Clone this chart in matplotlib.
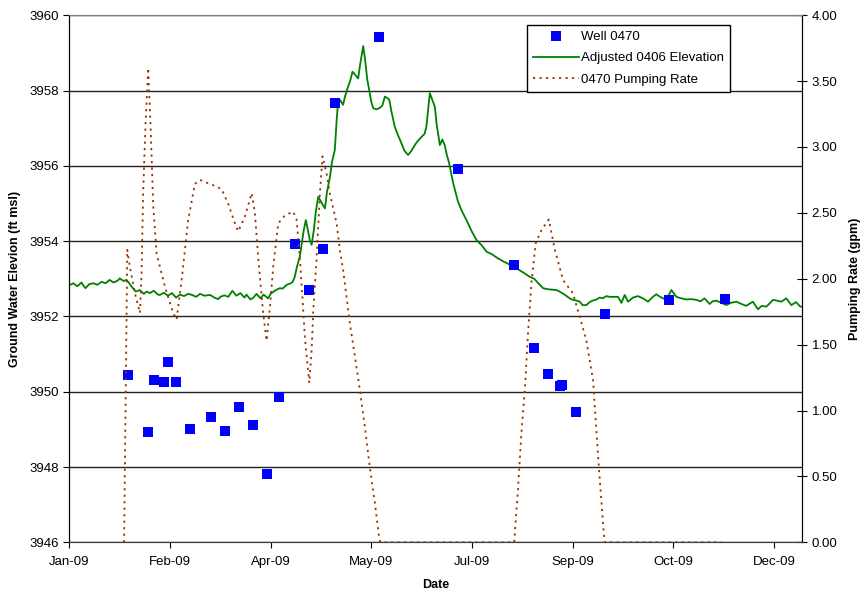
import pandas as pd
import matplotlib.pyplot as plt
import matplotlib.dates as mdates
from matplotlib.lines import Line2D
from matplotlib.ticker import FixedLocator, FormatStrFormatter

plt.rcParams['font.family'] = ['Liberation Sans', 'DejaVu Sans']

start = pd.Timestamp('2009-01-01')

# Well 0470 manual readings (days since 1 Jan 2009, ft msl)
well_days = [29.2, 39.2, 42.1, 47.2, 49.2, 53.1, 59.9, 70.2, 77.2, 84.1, 91.1, 98.2,
             104.1, 112.2, 119.0, 126.1, 132.1, 153.9, 193.0, 221.0, 230.9, 237.8,
             243.8, 245.0, 251.9, 266.0, 297.9, 325.9]
well_elev = [3950.45, 3948.94, 3950.30, 3950.27, 3950.78, 3950.25, 3949.02, 3949.32,
             3948.97, 3949.60, 3949.12, 3947.82, 3949.86, 3953.92, 3952.71, 3953.80,
             3957.67, 3959.42, 3955.92, 3953.36, 3951.17, 3950.46, 3950.16, 3950.19,
             3949.47, 3952.06, 3952.44, 3952.45]

# Adjusted 0406 transducer elevation
adj_days = [0, 2, 4, 6, 8, 10, 12, 14, 16, 18, 20, 22, 24, 25, 27, 28.5, 30, 31, 33, 35,
            37, 38.5, 40, 42, 44, 45, 47, 49, 51, 53, 55, 57, 59, 61, 63, 65, 67, 70, 72,
            74, 75, 77, 79, 81, 83, 85, 87, 88, 90, 91.5, 93, 95, 96.5, 98.8, 100, 102,
            104.5, 106, 108, 110, 111, 112, 113, 114.5, 115.5, 116.5, 117.5, 118.5, 119.5,
            120.4, 121.5, 122.5, 123.7, 125, 127, 128, 129.5, 130.5, 131.9, 132.8, 133.6,
            134.5, 136, 137, 138.5, 139.5, 140.7, 142, 143.5, 144.5, 146, 147, 148, 149,
            150, 151, 152.5, 154, 155.5, 156.8, 158, 159, 160, 161.7, 163, 165, 166.5,
            168.3, 170, 171.6, 173, 175, 176.5, 177.4, 178.3, 179.1, 180, 181.6, 182.5,
            184.1, 185.3, 186.5, 187.5, 188.7, 190.7, 193.1, 195, 197.3, 200, 202.3, 205,
            207.3, 210, 213, 216, 218, 220.5, 223, 226, 228.8, 231, 233, 235.4, 238, 242,
            243.6, 246, 248.6, 250.2, 252, 253.6, 255, 256.9, 258.5, 260, 261.9, 263.5,
            265, 266.8, 268.5, 270.1, 272.6, 274.3, 275.9, 277.6, 280, 282.5, 285, 287.5,
            289.5, 291.6, 293.5, 296.6, 299.1, 301.6, 304, 306.6, 309, 311.5, 313.5,
            315.6, 318.1, 319.5, 321.4, 324, 326.4, 328.5, 331.4, 333.5, 336.3, 338,
            339.6, 342.1, 344, 346.3, 348, 349.6, 351.5, 353.7, 356.2, 358.7, 361, 363, 364]
adj_elev = [3952.83, 3952.88, 3952.80, 3952.90, 3952.75, 3952.86, 3952.88, 3952.84,
            3952.92, 3952.88, 3952.97, 3952.90, 3952.95, 3953.01, 3952.94, 3952.97,
            3952.86, 3952.79, 3952.66, 3952.70, 3952.60, 3952.66, 3952.62, 3952.68,
            3952.58, 3952.57, 3952.63, 3952.55, 3952.62, 3952.50, 3952.58, 3952.54,
            3952.60, 3952.57, 3952.52, 3952.60, 3952.55, 3952.57, 3952.50, 3952.46,
            3952.52, 3952.56, 3952.52, 3952.68, 3952.55, 3952.62, 3952.50, 3952.58,
            3952.45, 3952.50, 3952.60, 3952.48, 3952.58, 3952.48, 3952.60, 3952.68,
            3952.75, 3952.74, 3952.84, 3952.88, 3952.92, 3953.05, 3953.30, 3953.59,
            3953.95, 3954.30, 3954.56, 3954.30, 3954.03, 3953.90, 3954.30, 3954.80,
            3955.18, 3955.05, 3954.87, 3955.30, 3955.71, 3956.10, 3956.42, 3957.20,
            3957.75, 3957.75, 3957.62, 3957.85, 3958.10, 3958.25, 3958.50, 3958.42,
            3958.32, 3958.70, 3959.18, 3958.80, 3958.30, 3958.01, 3957.70, 3957.53,
            3957.50, 3957.53, 3957.60, 3957.84, 3957.80, 3957.75, 3957.45, 3957.04,
            3956.85, 3956.60, 3956.40, 3956.29, 3956.40, 3956.55, 3956.65, 3956.77,
            3956.85, 3957.04, 3957.50, 3957.93, 3957.80, 3957.57, 3957.10, 3956.55,
            3956.70, 3956.55, 3956.30, 3956.07, 3955.54, 3955.05, 3954.80, 3954.56,
            3954.25, 3954.03, 3953.88, 3953.72, 3953.65, 3953.54, 3953.45, 3953.40,
            3953.32, 3953.25, 3953.15, 3953.05, 3953.00, 3952.88, 3952.75, 3952.72,
            3952.70, 3952.66, 3952.58, 3952.48, 3952.44, 3952.42, 3952.39, 3952.30,
            3952.30, 3952.38, 3952.42, 3952.45, 3952.50, 3952.48, 3952.54, 3952.52,
            3952.52, 3952.52, 3952.36, 3952.57, 3952.39, 3952.50, 3952.54, 3952.48,
            3952.39, 3952.50, 3952.59, 3952.52, 3952.44, 3952.70, 3952.52, 3952.48,
            3952.45, 3952.46, 3952.44, 3952.40, 3952.48, 3952.33, 3952.40, 3952.42,
            3952.36, 3952.30, 3952.36, 3952.39, 3952.34, 3952.28, 3952.34, 3952.39,
            3952.19, 3952.28, 3952.26, 3952.35, 3952.44, 3952.42, 3952.39, 3952.48,
            3952.30, 3952.38, 3952.27, 3952.25]

# 0470 pumping rate (gpm)
pump_days = [27.2, 28.8, 30.1, 32.6, 35.1, 35.9, 36.7, 37.9, 39.2, 40.4, 41.7, 43.4, 47.5,
             51.6, 53.3, 55.8, 59.1, 62.4, 64.9, 71.5, 75.7, 78.9, 82.3, 83.9, 87.2, 90.6,
             92.2, 93.8, 96.3, 98.0, 99.7, 101.3, 103.8, 107.1, 111.2, 112.9, 114.5, 115.9,
             117.0, 119.2, 120.4, 121.2, 122.8, 124.5, 125.8, 127.8, 129.4, 132.8, 134.4,
             136.0, 139.4, 141.9, 144.3, 146.8, 149.3, 151.8, 153.9, 154.5, 221.0, 222.9,
             224.6, 226.3, 227.9, 229.6, 231.7, 234.6, 238.2, 241.2, 245.3, 250.2, 253.6,
             256.9, 260.2, 262.7, 265.5, 266.0, 324.0]
pump_rate = [0.00, 2.22, 2.09, 1.89, 1.74, 2.04, 2.67, 3.18, 3.60, 3.15, 2.55, 2.19, 1.94,
             1.74, 1.69, 1.99, 2.45, 2.72, 2.75, 2.71, 2.68, 2.57, 2.42, 2.36, 2.47, 2.65,
             2.50, 2.17, 1.74, 1.53, 1.79, 2.09, 2.42, 2.48, 2.51, 2.45, 2.17, 1.84, 1.56,
             1.21, 1.46, 1.76, 2.14, 2.65, 2.93, 2.80, 2.65, 2.42, 2.22, 2.07, 1.66, 1.41,
             1.16, 0.88, 0.57, 0.30, 0.04, 0.00, 0.00, 0.40, 0.83, 1.16, 1.59, 1.97, 2.27,
             2.37, 2.45, 2.22, 1.99, 1.89, 1.71, 1.53, 1.23, 0.65, 0.07, 0.00, 0.00]


def to_dates(days):
    return start + pd.to_timedelta(days, unit='D')


fig = plt.figure(figsize=(8.62, 5.90), dpi=100)
ax1 = fig.add_axes([0.0804, 0.0808, 0.85, 0.8934])
ax2 = ax1.twinx()

brown = '#993300'
ax1.plot(to_dates(adj_days), adj_elev, color='#008000', lw=1.3, zorder=3)
ax1.plot(to_dates(well_days), well_elev, linestyle='none', marker='s', markersize=6.5,
         color='#0000FF', markeredgewidth=0, zorder=4)
ax2.plot(to_dates(pump_days), pump_rate, color=brown, lw=1.3,
         linestyle=(0, (1.2, 2.4)))

ax1.set_ylim(3946, 3960)
ax1.set_yticks(range(3946, 3961, 2))
ax2.set_ylim(0, 4.0)
ax2.set_yticks([i * 0.5 for i in range(9)])
ax2.yaxis.set_major_formatter(FormatStrFormatter('%.2f'))

# date axis: major unit of 50 days starting 1 Jan 2009
ax1.set_xlim(start, start + pd.Timedelta(days=364))
tick_dates = [start + pd.Timedelta(days=d) for d in range(0, 351, 50)]
ax1.xaxis.set_major_locator(FixedLocator(mdates.date2num(tick_dates)))
ax1.xaxis.set_major_formatter(mdates.DateFormatter('%b-%y'))

ax1.grid(axis='y', color='#222222', lw=1.0)
ax1.set_axisbelow(True)

for ax in (ax1, ax2):
    ax.spines['top'].set_color('#808080')
    ax.spines['left'].set_color('black')
    ax.spines['right'].set_color('black')
    ax.spines['bottom'].set_color('#404040')

ax1.tick_params(axis='both', direction='out', length=4, labelsize=9.5, colors='black')
ax1.tick_params(axis='x', pad=6)
ax2.tick_params(axis='y', direction='inout', length=7, labelsize=9.5)

ax1.set_xlabel('Date', fontsize=9, fontweight='bold', labelpad=8)
ax1.set_ylabel('Ground Water Elevion (ft msl)', fontsize=9, fontweight='bold', labelpad=6)
ax2.set_ylabel('Pumping Rate (gpm)', fontsize=9, fontweight='bold', labelpad=8)

handles = [
    Line2D([], [], linestyle='none', marker='s', markersize=6.5, color='#0000FF',
           markeredgewidth=0),
    Line2D([], [], color='#008000', lw=1.3),
    Line2D([], [], color=brown, lw=1.3, linestyle=(0, (1.2, 2.4))),
]
labels = ['Well 0470', 'Adjusted 0406 Elevation', '0470 Pumping Rate']
leg = ax2.legend(handles, labels, loc='upper left', bbox_to_anchor=(0.625, 0.981),
                 fontsize=9.5, frameon=True, fancybox=False, edgecolor='black',
                 framealpha=1, borderpad=0.45, labelspacing=0.67, handlelength=3.5,
                 handletextpad=0.15, borderaxespad=0)
leg.get_frame().set_linewidth(1.0)

plt.savefig('out.png', dpi=100)
